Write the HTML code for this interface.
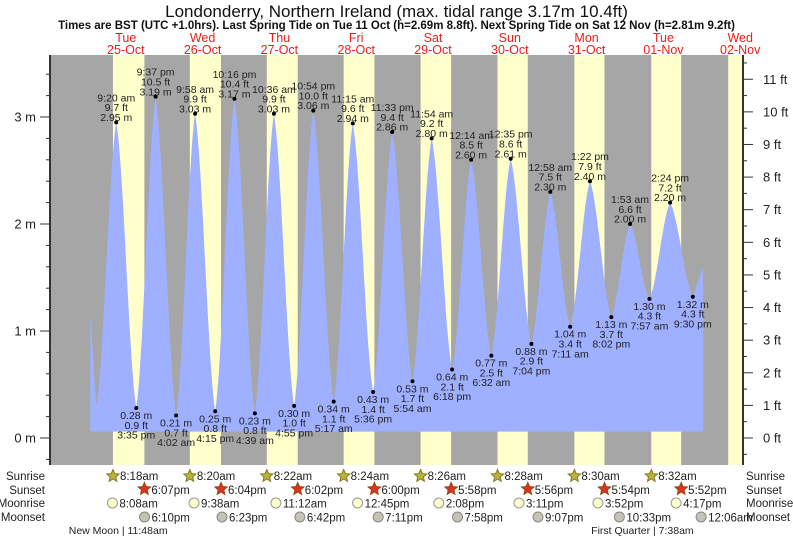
<!DOCTYPE html>
<html><head><meta charset="utf-8"><style>
body{margin:0;background:#fff;}
svg{display:block;font-family:"Liberation Sans",sans-serif;}
</style></head><body>
<svg id="c" width="793" height="539" xmlns="http://www.w3.org/2000/svg"></svg>
<script>
// ---- data ----
const days = ["Tue","Wed","Thu","Fri","Sat","Sun","Mon","Tue","Wed"];
const dates = ["25-Oct","26-Oct","27-Oct","28-Oct","29-Oct","30-Oct","31-Oct","01-Nov","02-Nov"];
const tideDay = [0,0,0,1,1,1,1,2,2,2,2,3,3,3,3,4,4,4,5,5,5,5,6,6,6,6,7,7,7,7];
const tideTime = ["9:20 am","3:35 pm","9:37 pm","4:02 am","9:58 am","4:15 pm","10:16 pm","4:39 am","10:36 am","4:55 pm","10:54 pm","5:17 am","11:15 am","5:36 pm","11:33 pm","5:54 am","11:54 am","6:18 pm","12:14 am","6:32 am","12:35 pm","7:04 pm","12:58 am","7:11 am","1:22 pm","8:02 pm","1:53 am","7:57 am","2:24 pm","9:30 pm"];
const tideM = [2.95,0.28,3.19,0.21,3.03,0.25,3.17,0.23,3.03,0.30,3.06,0.34,2.94,0.43,2.86,0.53,2.80,0.64,2.60,0.77,2.61,0.88,2.30,1.04,2.40,1.13,2.00,1.30,2.20,1.32];
const tideFt = ["9.7","0.9","10.5","0.7","9.9","0.8","10.4","0.8","9.9","1.0","10.0","1.1","9.6","1.4","9.4","1.7","9.2","2.1","8.5","2.5","8.6","2.9","7.5","3.4","7.9","3.7","6.6","4.3","7.2","4.3"];
const startPt = [0.05, 1.15];
const prevLow = [0.13, 0.30];
const endPt = [8.03, 1.60];
const sunrise = ["8:18am","8:20am","8:22am","8:24am","8:26am","8:28am","8:30am","8:32am","8:34am"];
const sunset = ["6:07pm","6:04pm","6:02pm","6:00pm","5:58pm","5:56pm","5:54pm","5:52pm","5:50pm"];
const moonriseDay = [0,1,2,3,4,5,6,7];
const moonrise = ["8:08am","9:38am","11:12am","12:45pm","2:08pm","3:11pm","3:52pm","4:17pm"];
const moonsetDay = [0,1,2,3,4,5,6,8];
const moonset = ["6:10pm","6:23pm","6:42pm","7:11pm","7:58pm","9:07pm","10:33pm","12:06am"];
const phaseLabel = ["New Moon | 11:48am","First Quarter | 7:38am"];
const phaseDay = [0,7];
const phaseTime = ["11:48am","7:38am"];
const yTicksM = [0,1,2,3];
const yTicksFt = [0,1,2,3,4,5,6,7,8,9,10,11];

// ---- scales ----
const X0=86.4, DW=76.8, PL=50, PR=743, PT=55, PB=465;
const xs = d => X0 + d*DW;
const ys = m => 438 - m*107;
function tfrac(s){
  const m = s.match(/(\d+):(\d+)\s*(am|pm)/);
  let h = +m[1]%12; if(m[3]==="pm") h+=12;
  return (h*60 + +m[2])/1440;
}
const NS="http://www.w3.org/2000/svg";
const svg=document.getElementById('c');
function el(tag,attrs,parent){const e=document.createElementNS(NS,tag);for(const k in attrs)e.setAttribute(k,attrs[k]);(parent||svg).appendChild(e);return e;}
function txt(x,y,s,attrs){const e=el('text',Object.assign({x:x,y:y},attrs||{}));e.textContent=s;return e;}

const bg=el('rect',{x:PL,y:PT,width:PR-PL,height:PB-PT,fill:'#a6a6a6'});


for(let i=0;i<sunrise.length;i++){
  const a=xs(i+tfrac(sunrise[i])), b=Math.min(PR,xs(i+tfrac(sunset[i])));
  if(a>=PR) continue;
  const r=el('rect',{x:a,y:PT,width:b-a,height:PB-PT,fill:'#ffffcc'});
  
  
}
// tide curve (sharpened cosine)
function ease(f){const c=(1-Math.cos(f*Math.PI))/2;return 0.6*c+0.4*f;}
const pts=[[prevLow[0],prevLow[1]]];
for(let i=0;i<tideM.length;i++) pts.push([tideDay[i]+tfrac(tideTime[i]),tideM[i]]);
const pre=[startPt[0],startPt[1]];
let d='M'+xs(pre[0])+','+ys(0.06)+' L'+xs(pre[0])+','+ys(pre[1]);
for(let k=1;k<=10;k++){const f=k/10;const t=pre[0]+(prevLow[0]-pre[0])*f;const h=pre[1]+(prevLow[1]-pre[1])*f;d+=' L'+xs(t).toFixed(1)+','+ys(h).toFixed(1);}
for(let i=0;i<pts.length-1;i++){
  const [t0,h0]=pts[i],[t1,h1]=pts[i+1];
  for(let k=1;k<=20;k++){const f=k/20;const h=h0+(h1-h0)*ease(f);d+=' L'+xs(t0+(t1-t0)*f).toFixed(1)+','+ys(h).toFixed(1);}
}
{const [t0,h0]=pts[pts.length-1];for(let k=1;k<=10;k++){const f=k/10;const h=h0+(endPt[1]-h0)*f;d+=' L'+xs(t0+(endPt[0]-t0)*f).toFixed(1)+','+ys(h).toFixed(1);}}
d+=' L'+xs(endPt[0])+','+ys(0.06)+' Z';
const area=el('path',{d:d,fill:'#9eb0ff'});



for(let i=0;i<tideM.length;i++){
  const x=xs(tideDay[i]+tfrac(tideTime[i])), y=ys(tideM[i]);
  const isHigh = (i===0)||(tideM[i]>tideM[i-1]);
  const g=el('g',{'font-size':'10.5',fill:'#222','text-anchor':'middle'});
  
  
  el('circle',{cx:x,cy:y,r:2,fill:'#000'},g);
  const lines=isHigh?[tideTime[i],tideFt[i]+' ft',tideM[i].toFixed(2)+' m']:[tideM[i].toFixed(2)+' m',tideFt[i]+' ft',tideTime[i]];
  const base=isHigh?y-21:y+11;
  lines.forEach((s,j)=>{const t=el('text',{x:x,y:base+j*9.8},g);t.textContent=s;});
}

el('line',{x1:PL,y1:PT,x2:PL,y2:PB,stroke:'#333','stroke-width':2});
el('line',{x1:PR,y1:PT,x2:PR,y2:PB,stroke:'#333','stroke-width':2});
for(let m=-0.2;m<=3.9;m+=0.2){const y=ys(m);if(y<PT||y>PB)continue;const major=Math.abs(m-Math.round(m))<0.01;el('line',{x1:major?PL-10:PL-4,y1:y,x2:PL,y2:y,stroke:'#333'});}
yTicksM.forEach(m=>{const t=txt(36,ys(m)+4.5,m+' m',{'font-size':'13',fill:'#222','text-anchor':'end'});});
for(let f=-0.5;f<=11.5;f+=0.5){const y=ys(f*0.3048);if(y<PT||y>PB)continue;const major=Math.abs(f-Math.round(f))<0.01;el('line',{x1:PR,y1:y,x2:major?PR+10:PR+4,y2:y,stroke:'#333'});}
yTicksFt.forEach(f=>{const t=txt(763,ys(f*0.3048)+4.5,f+' ft',{'font-size':'13',fill:'#222'});});

const t1=txt(396.5,17,'Londonderry, Northern Ireland (max. tidal range 3.17m 10.4ft)',{'font-size':'17','text-anchor':'middle',fill:'#111'});

const t2=txt(396.5,29,'Times are BST (UTC +1.0hrs). Last Spring Tide on Tue 11 Oct (h=2.69m 8.8ft). Next Spring Tide on Sat 12 Nov (h=2.81m 9.2ft)',{'font-size':'11.5','font-weight':'bold','text-anchor':'middle',fill:'#111'});

for(let i=0;i<days.length;i++){
  const x=xs(i+0.5)+1;
  const a=txt(x,42,days[i],{'font-size':'12.5','text-anchor':'middle',fill:'#e8201c'});
  
  const b=txt(x,54,dates[i],{'font-size':'12.5','text-anchor':'middle',fill:'#e8201c'});
  
}

const rows=[['Sunrise',480],['Sunset',494],['Moonrise',507],['Moonset',521]];
rows.forEach(r=>{
  const a=txt(45,r[1],r[0],{'font-size':'11.5','text-anchor':'end',fill:'#222'});
  const b=txt(746,r[1],r[0],{'font-size':'11.5',fill:'#222'});
});
function star(cx,cy,fill,stroke){let p='';for(let k=0;k<10;k++){const r=k%2?3:6.5;const a=-Math.PI/2+k*Math.PI/5;p+=(cx+r*Math.cos(a)).toFixed(1)+','+(cy+r*Math.sin(a)).toFixed(1)+' ';}return el('polygon',{points:p,fill:fill,stroke:stroke,'stroke-width':1});}
for(let i=0;i<8;i++){
  let x=xs(i+tfrac(sunrise[i]));
  const s=star(x,476,'#b8b43c','#8a7a20');
  txt(x+7,480,sunrise[i],{'font-size':'11.5',fill:'#222'});
  x=xs(i+tfrac(sunset[i]));
  const s2=star(x,489,'#dd3322','#994411');
  txt(x+7,494,sunset[i],{'font-size':'11.5',fill:'#222'});
}
for(let i=0;i<moonrise.length;i++){
  const x=xs(moonriseDay[i]+tfrac(moonrise[i]));
  const c=el('circle',{cx:x,cy:503,r:5,fill:'#ffffcc',stroke:'#999'});
  txt(x+7,507.5,moonrise[i],{'font-size':'11.5',fill:'#222'});
}
for(let i=0;i<moonset.length;i++){
  const x=xs(moonsetDay[i]+tfrac(moonset[i]));
  const c=el('circle',{cx:x,cy:517,r:5,fill:'#c4c4b0',stroke:'#888'});
  txt(x+7,521.5,moonset[i],{'font-size':'11.5',fill:'#222'});
}
for(let i=0;i<phaseLabel.length;i++){
  const x=xs(phaseDay[i]+tfrac(phaseTime[i]))-6;
  const t=txt(x,534,phaseLabel[i],{'font-size':'10.5','text-anchor':'middle',fill:'#222'});
  
}
</script>
</body></html>
